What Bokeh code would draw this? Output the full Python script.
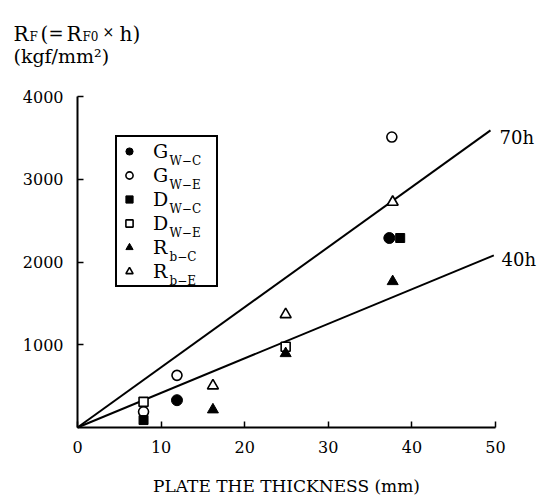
from bokeh.plotting import figure
from bokeh.models import Range1d, FixedTicker, Label, Legend, LegendItem
from bokeh.embed import file_html
from bokeh.resources import INLINE

FONT = "DejaVu Serif"

# ---- data ----
gwc_x = [11.9, 37.3]
gwc_y = [330, 2290]
gwe_x = [7.9, 11.9, 37.6]
gwe_y = [190, 630, 3510]
dwc_x = [7.9, 38.6]
dwc_y = [90, 2290]
dwe_x = [7.9, 24.9]
dwe_y = [310, 975]
rbc_x = [16.2, 24.9, 37.7]
rbc_y = [215, 895, 1765]
rbe_x = [16.2, 24.9, 37.7]
rbe_y = [505, 1366, 2724]
line70_x = [0, 49.4]
line70_y = [0, 3590]
line40_x = [0, 49.8]
line40_y = [0, 2080]
x_ticks = [0, 10, 20, 30, 40, 50]
y_ticks = [1000, 2000, 3000, 4000]
legend_main = ["G", "G", "D", "D", "R", "R"]
legend_sub = ["W\u2212C", "W\u2212E", "W\u2212C", "W\u2212E", "b\u2212C", "b\u2212E"]

# ---- layout geometry (frame covers the whole canvas, axes fixed at 0) ----
W, H = 544, 495
X0, Y0 = 77, 427   # pixel position of the data origin
XS = 8.36          # px per mm
YS = 0.08275       # px per kgf/mm2


def X(px):
    return (px - X0) / XS


def Y(py):
    return (Y0 - py) / YS


p = figure(width=W, height=H,
           x_range=Range1d(X(0), X(W)), y_range=Range1d(Y(H), Y(0)),
           output_backend="svg", toolbar_location=None, min_border=0)
p.outline_line_color = None
p.grid.visible = False
p.background_fill_color = "white"

for ax in (p.xaxis, p.yaxis):
    ax.fixed_location = 0
    ax.axis_line_width = 2
    ax.axis_line_color = "black"
    ax.major_tick_line_width = 1.5
    ax.major_tick_line_color = "black"
    ax.major_tick_out = 0
    ax.major_tick_in = 6
    ax.minor_tick_line_color = None
    ax.major_label_text_font = FONT
    ax.major_label_text_font_size = "16px"
    ax.major_label_text_color = "black"

p.xaxis.bounds = (0, 50)
p.yaxis.bounds = (0, 4000)
p.xaxis.ticker = FixedTicker(ticks=x_ticks)
p.yaxis.ticker = FixedTicker(ticks=y_ticks)
p.xaxis.major_label_standoff = 13
p.yaxis.major_label_standoff = 14
p.xaxis.axis_label = "PLATE THE THICKNESS (mm)"
p.xaxis.axis_label_text_font = FONT
p.xaxis.axis_label_text_font_style = "normal"
p.xaxis.axis_label_text_font_size = "17px"
p.xaxis.axis_label_text_color = "black"
p.xaxis.axis_label_standoff = 20

# reference lines
p.line(line70_x, line70_y, line_color="black", line_width=2)
p.line(line40_x, line40_y, line_color="black", line_width=2)

# data points
r1 = p.scatter(gwc_x, gwc_y, marker="circle", size=11, fill_color="black", line_color="black")
r2 = p.scatter(gwe_x, gwe_y, marker="circle", size=10, fill_color="white", line_color="black", line_width=1.6)
r3 = p.scatter(dwc_x, dwc_y, marker="square", size=9, fill_color="black", line_color="black")
r4 = p.scatter(dwe_x, dwe_y, marker="square", size=9, fill_color="white", line_color="black", line_width=1.6)
r5 = p.scatter(rbc_x, rbc_y, marker="triangle", size=11, fill_color="black", line_color="black")
r6 = p.scatter(rbe_x, rbe_y, marker="triangle", size=11, fill_color="white", line_color="black", line_width=1.6)
rs = [r1, r2, r3, r4, r5, r6]

LEG_BOTTOM = 287
legend = Legend(items=[LegendItem(label=t, renderers=[r]) for t, r in zip(legend_main, rs)],
                location=(115, H - LEG_BOTTOM),
                padding=3, spacing=2, margin=0,
                glyph_height=18, glyph_width=18, label_height=18, label_width=60,
                label_standoff=15,
                label_text_font=FONT, label_text_font_size="19px", label_text_color="black",
                border_line_color="black", border_line_width=2, border_line_alpha=1.0,
                background_fill_alpha=0.0)
p.add_layout(legend)

# subscripts of the legend entries
for i, s in enumerate(legend_sub):
    cy = 151 + i * 24
    p.add_layout(Label(x=X(169), y=Y(cy + 9), text=s, text_font=FONT,
                       text_font_size="12px", text_color="black", level="overlay",
                       text_baseline="alphabetic", text_align="left"))

# line labels
p.add_layout(Label(x=X(499), y=Y(137), text="70h", text_font=FONT, text_font_size="18px",
                   text_color="black", text_baseline="alphabetic"))
p.add_layout(Label(x=X(501), y=Y(259), text="40h", text_font=FONT, text_font_size="18px",
                   text_color="black", text_baseline="alphabetic"))

# y axis title (top-left)
parts = [
    ("R", 13, 33, "20px"),
    ("F", 29, 36, "12px"),
    ("(", 40, 33, "20px"),
    ("=", 48, 33, "18px"),
    ("R", 66, 33, "20px"),
    ("F0", 82, 36, "12px"),
    ("\u00d7", 102, 31, "14px"),
    ("h)", 119, 33, "20px"),
    ("(kgf/mm\u00b2)", 13, 55, "19px"),
]
for t, px, py, fs in parts:
    p.add_layout(Label(x=X(px), y=Y(py), text=t, text_font=FONT, text_font_size=fs,
                       text_color="black", text_baseline="alphabetic", text_align="left"))

open("out.html", "w").write(file_html(p, INLINE))
